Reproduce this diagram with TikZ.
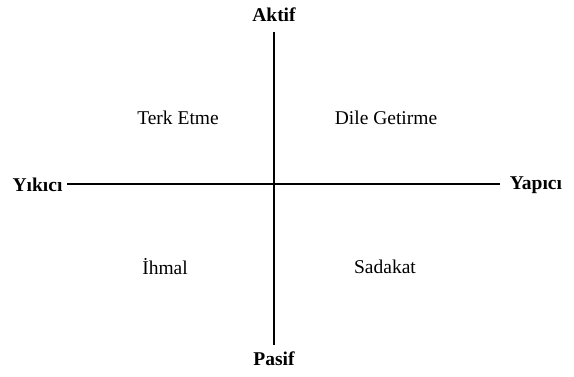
\documentclass[tikz,border=0pt]{standalone}
\usepackage{fontspec}
\setmainfont{Liberation Serif}
\begin{document}
\begin{tikzpicture}[x=1pt,y=-1pt,
  axis/.style={line width=1.1pt},
  pole/.style={font=\fontsize{19.5}{23}\selectfont\bfseries, inner sep=0pt},
  quad/.style={font=\fontsize{19.5}{23}\selectfont, inner sep=0pt}]
\useasboundingbox (0,0) rectangle (574,376);
\node[pole] (akt) at (274,15) {Aktif};
\node[pole] (pas) at (274,359) {Pasif};
\node[pole] (yik) at (37.5,185) {Yıkıcı};
\node[pole] (yap) at (536,185) {Yapıcı};
\coordinate (top) at (274,32);
\coordinate (bot) at (274,345);
\coordinate (lft) at (67,184);
\coordinate (rgt) at (500,184);
\draw[axis] (top) -- (bot);
\draw[axis] (lft) -- (rgt);
\node[quad] (terk) at (178,118) {Terk Etme};
\node[quad] (dile) at (386,118) {Dile Getirme};
\node[quad] (ihm) at (165,267) {İhmal};
\node[quad] (sad) at (385,267) {Sadakat};
\end{tikzpicture}
\end{document}
